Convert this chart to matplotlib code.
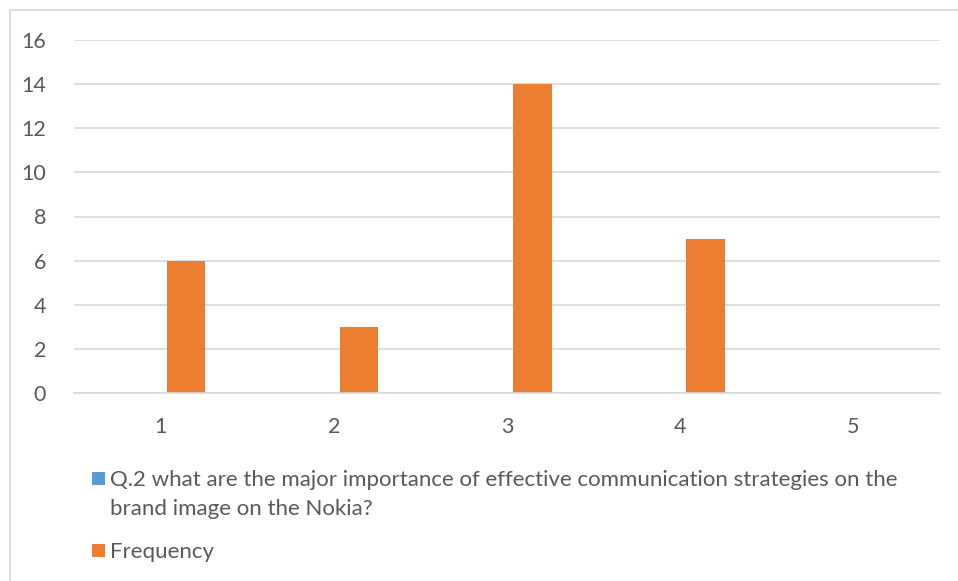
import matplotlib
matplotlib.use("Agg")
import matplotlib.pyplot as plt
from matplotlib.patches import Rectangle
import numpy as np

categories = ["1", "2", "3", "4", "5"]
question_values = [0, 0, 0, 0, 0]
frequency_values = [6, 3, 14, 7, 0]
series_names = [
    "Q.2 what are the major importance of effective communication strategies on the\nbrand image on the Nokia?",
    "Frequency",
]
series_colors = ["#5B9BD5", "#ED7D31"]
y_ticks = [0, 2, 4, 6, 8, 10, 12, 14, 16]

FONT = "Lato"
TEXT_COLOR = "#595959"
GRID_COLOR = "#D9D9D9"

fig = plt.figure(figsize=(9.58, 5.81), dpi=100)
W, H = 958, 581

# outer chart frame
fig.patches.append(Rectangle((10 / W, -0.01), (W + 5 - 10) / W, 1 - 10 / H + 0.01,
                             transform=fig.transFigure, fill=False,
                             edgecolor=GRID_COLOR, linewidth=1.2))

ax = fig.add_axes([74 / W, 1 - 393 / H, (940 - 74) / W, (393 - 40) / H])
x = np.arange(len(categories))
bw = 0.222
offset = 0.146
ax.bar(x - offset, question_values, bw, color=series_colors[0], linewidth=0)
ax.bar(x + offset, frequency_values, bw, color=series_colors[1], linewidth=0, zorder=3)

ax.set_xlim(-0.5, len(categories) - 0.5)
ax.set_ylim(0, 16)
ax.set_yticks(y_ticks)
ax.set_xticks(x)
ax.set_xticklabels(categories)
ax.yaxis.grid(True, color=GRID_COLOR, linewidth=1.2)
ax.set_axisbelow(True)
for s in ["top", "right", "left"]:
    ax.spines[s].set_visible(False)
ax.spines["bottom"].set_color(GRID_COLOR)
ax.spines["bottom"].set_linewidth(1.2)
ax.spines["bottom"].set_zorder(4)
ax.tick_params(axis="both", length=0, labelsize=15.5, labelcolor=TEXT_COLOR)
ax.tick_params(axis="y", pad=20)
ax.tick_params(axis="x", pad=17)
for lab in ax.get_xticklabels() + ax.get_yticklabels():
    lab.set_fontfamily(FONT)

# legend: colour squares with wrapped labels, one text row per line (baselines in px)
line_rows = [[486, 515], [558]]
for name, color, rows in zip(series_names, series_colors, line_rows):
    top = rows[0] - 14
    fig.patches.append(Rectangle((92 / W, 1 - (top + 13) / H), 13 / W, 13 / H,
                                 transform=fig.transFigure, color=color, linewidth=0))
    for line, yl in zip(name.split("\n"), rows):
        fig.text(110 / W, 1 - yl / H, line, ha="left", va="baseline",
                 fontsize=16, color=TEXT_COLOR, family=FONT)

fig.savefig("out.png", dpi=100, facecolor="white")
